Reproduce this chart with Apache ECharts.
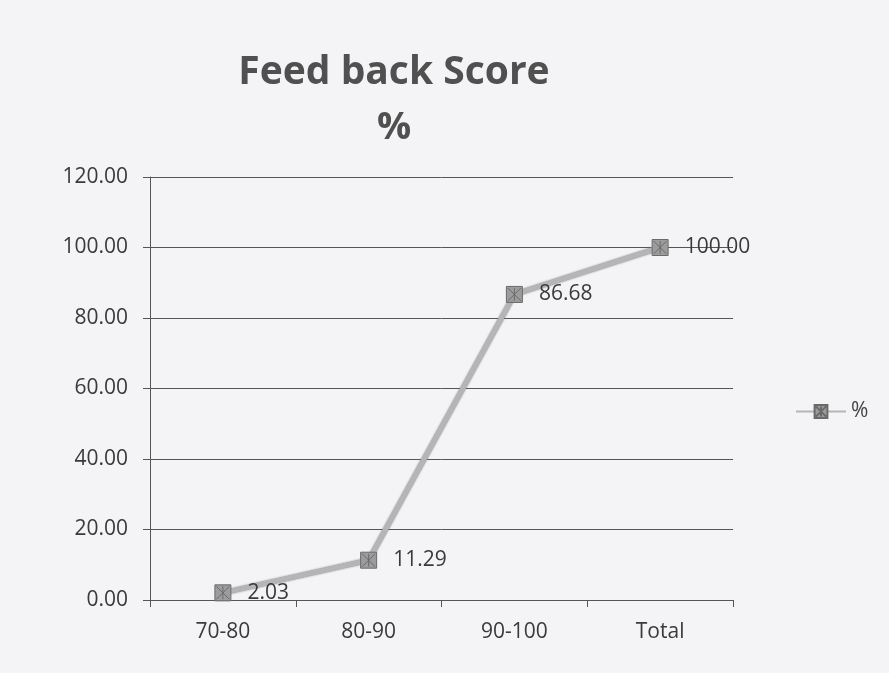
<!DOCTYPE html>
<html>
<head>
<meta charset="utf-8">
<script src="https://cdn.jsdelivr.net/npm/echarts@6/dist/echarts.min.js"></script>
<style>
  html, body { margin: 0; padding: 0; background: #f4f3f6; }
  #chart { width: 889px; height: 673px; }
</style>
</head>
<body>
<div id="chart"></div>
<script>
  var categories = ['70-80', '80-90', '90-100', 'Total'];
  var percentValues = [2.03, 11.29, 86.68, 100.00];
  var yTicks = [0, 20, 40, 60, 80, 100, 120];

  var chart = echarts.init(document.getElementById('chart'));
  var font = '"Open Sans", "Noto Sans", sans-serif';
  // square marker with an X drawn inside
  var markPath = 'path://M0,0 L10,0 L10,10 L0,10 Z M1,1 L9,9 M9,1 L1,9 M5,1 L5,9';

  var option = {
    backgroundColor: '#f4f3f6',
    animation: false,
    title: [{
      text: 'Feed back Score',
      left: 389, top: 48, textAlign: 'center',
      textStyle: { fontFamily: font, fontSize: 39, fontWeight: 'bold', color: '#505050' }
    }, {
      text: '%',
      left: 389, top: 104, textAlign: 'center',
      textStyle: { fontFamily: font, fontSize: 38, fontWeight: 'bold', color: '#505050' }
    }],
    legend: {
      data: ['%'],
      left: 790, top: 396,
      itemWidth: 50, itemHeight: 16, itemGap: 4,
      textStyle: { fontFamily: font, fontSize: 21, color: '#444' }
    },
    grid: { left: 150, right: 156, top: 177, bottom: 73, containLabel: false },
    xAxis: {
      type: 'category',
      data: categories,
      boundaryGap: true,
      axisLine: { lineStyle: { color: '#555' } },
      axisTick: { show: true, length: 7, lineStyle: { color: '#555' } },
      axisLabel: { fontFamily: font, fontSize: 21, color: '#3a3a3a', margin: 22 }
    },
    yAxis: {
      type: 'value',
      min: yTicks[0], max: yTicks[yTicks.length - 1], interval: 20,
      axisLine: { show: true, lineStyle: { color: '#555' } },
      axisTick: { show: true, length: 7, inside: false, lineStyle: { color: '#555' } },
      splitLine: { lineStyle: { color: '#555', width: 1 } },
      axisLabel: {
        fontFamily: font, fontSize: 21, color: '#3a3a3a', margin: 22,
        formatter: function (v) { return v.toFixed(2); }
      }
    },
    series: [{
      name: '%',
      type: 'line',
      data: percentValues,
      symbol: markPath,
      symbolSize: 16,
      symbolKeepAspect: true,
      lineStyle: { color: '#b5b5b5', width: 5, shadowColor: '#777', shadowBlur: 2 },
      itemStyle: { color: '#9c9c9c', borderColor: '#6a6a6a', borderWidth: 1 },
      label: {
        show: true,
        position: 'right',
        distance: 16,
        fontFamily: font, fontSize: 21, color: '#3a3a3a',
        formatter: function (p) { return p.value.toFixed(2); }
      }
    }]
  };
  chart.setOption(option);
</script>
</body>
</html>
